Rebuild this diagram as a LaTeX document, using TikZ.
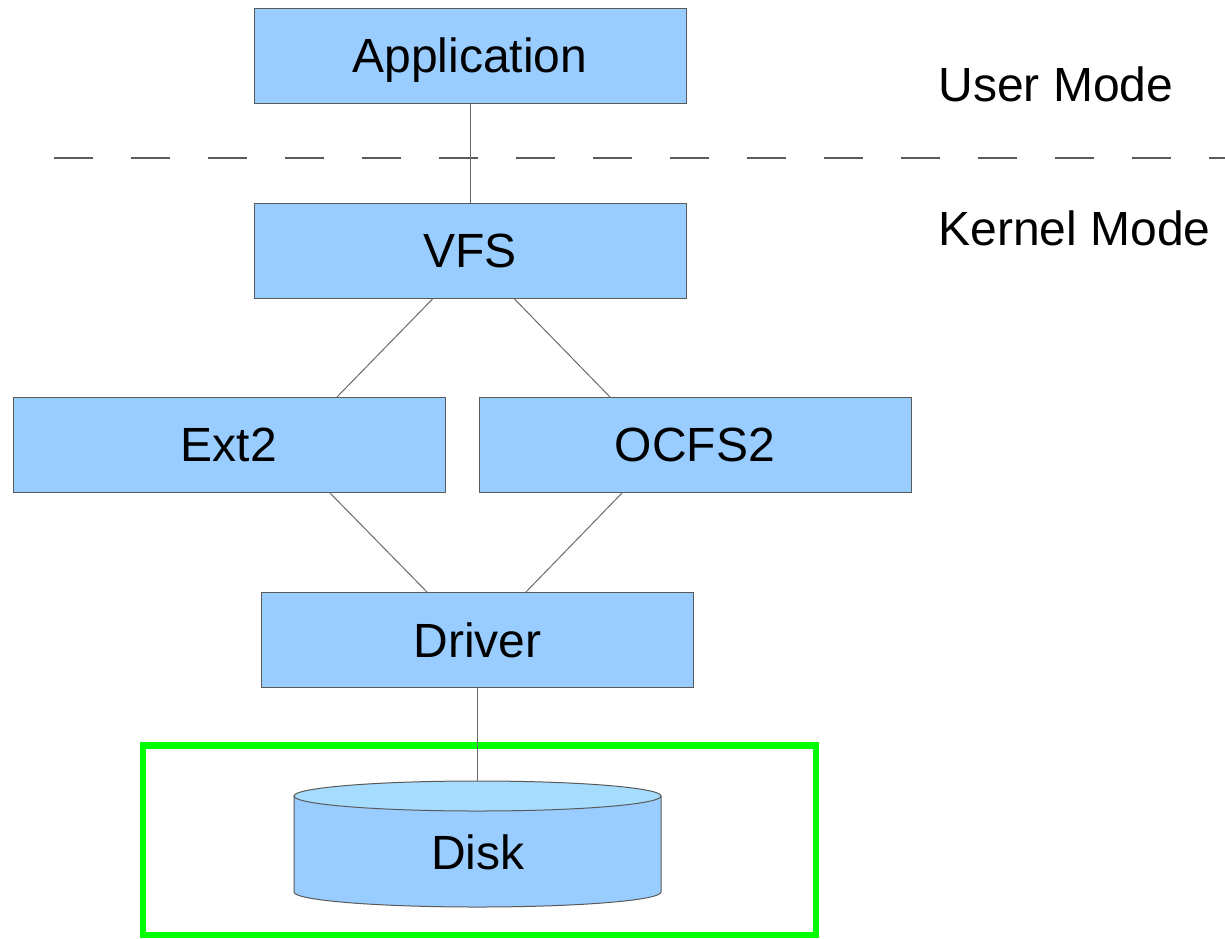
\documentclass[tikz,border=0pt]{standalone}
\usepackage{fontspec}
\setmainfont{Liberation Sans}
\definecolor{boxfill}{HTML}{99CCFF}
\definecolor{capfill}{HTML}{A6DDFF}
\definecolor{edge}{HTML}{5A5A5A}
\definecolor{wire}{HTML}{6A6A6A}
\definecolor{frame}{HTML}{00FF00}
\tikzset{
  layer/.style={draw=edge, line width=0.5pt, fill=boxfill, minimum width=216pt,
    minimum height=47.5pt, inner sep=0pt, text depth=0pt, font=\fontsize{24}{28}\selectfont},
  link/.style={draw=wire, line width=0.5pt},
  modelabel/.style={anchor=base west, inner sep=0pt, font=\fontsize{24}{28}\selectfont},
}
\begin{document}
\begin{tikzpicture}[x=0.5pt, y=-0.5pt]
\useasboundingbox (0,0) rectangle (1225,938);

% user/kernel boundary
\draw[edge, line width=0.6pt, dash pattern=on 19.5pt off 19pt] (54,158) -- (1225,158);
\node[modelabel] (user) at (938,101) {User Mode};
\node[modelabel] (kernel) at (938,245) {Kernel Mode};

% layers
\node[layer] (app) at (470,55.5) {Application};
\node[layer] (vfs) at (470,250.5) {VFS};
\node[layer] (ext2) at (229,445) {Ext2};
\node[layer] (ocfs2) at (695,445) {OCFS2};
\node[layer] (driver) at (477.5,640) {Driver};

% disk cylinder
\fill[boxfill] (294,796) -- (294,892)
  arc[start angle=180, end angle=360, x radius=91.75pt, y radius=7.5pt] -- (661,796) -- cycle;
\draw[edge, line width=0.5pt] (294,796) -- (294,892)
  arc[start angle=180, end angle=360, x radius=91.75pt, y radius=7.5pt] -- (661,796);
\draw[edge, line width=0.5pt, fill=capfill] (477.5,796) ellipse[x radius=91.75pt, y radius=7.5pt];
\coordinate (disktop) at (477.5,781);
\node[inner sep=0pt, font=\fontsize{24}{28}\selectfont] (disk) at (478,852) {Disk};

% storage frame
\draw[frame, line width=3.2pt] (143,745.5) rectangle (816,935);

% connectors
\draw[link] (app.south) -- (vfs.north);
\draw[link] ([xshift=-18.5pt]vfs.south) -- ([xshift=54pt]ext2.north);
\draw[link] ([xshift=22pt]vfs.south) -- ([xshift=-42.5pt]ocfs2.north);
\draw[link] ([xshift=50.5pt]ext2.south) -- ([xshift=-25.25pt]driver.north);
\draw[link] ([xshift=-36.5pt]ocfs2.south) -- ([xshift=24.25pt]driver.north);
\draw[link] (driver.south) -- (disktop);
\end{tikzpicture}
\end{document}
